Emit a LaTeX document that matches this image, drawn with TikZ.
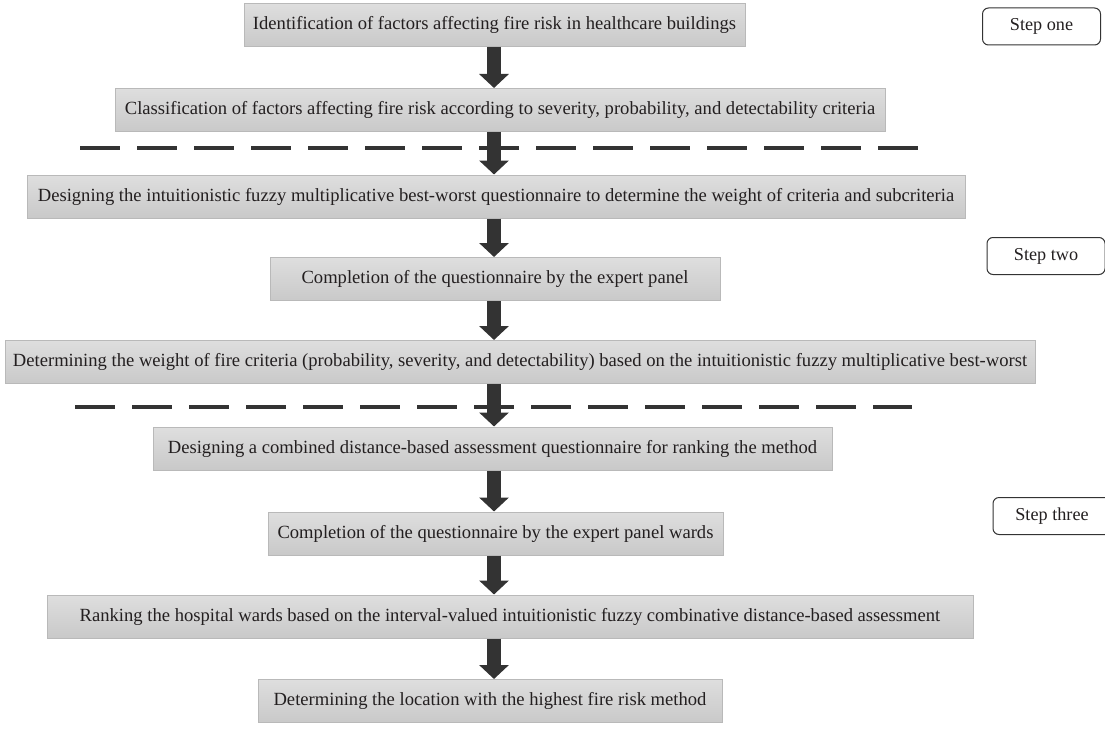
\documentclass[tikz,border=0pt]{standalone}
\usepackage{fontspec}
\setmainfont{Liberation Serif}
\usetikzlibrary{arrows.meta}
\definecolor{boxtop}{RGB}{222,222,222}
\definecolor{boxbot}{RGB}{201,201,201}
\definecolor{boxline}{RGB}{185,185,185}
\definecolor{ink}{RGB}{35,31,32}
\definecolor{arrowc}{RGB}{51,51,51}
\tikzset{
  proc/.style={draw=boxline, line width=1pt, top color=boxtop, bottom color=boxbot,
    minimum height=43pt, inner sep=0pt, text=ink, font=\fontsize{18.6}{21}\selectfont},
  stepbox/.style={draw=arrowc, line width=1pt, rounded corners=6pt, fill=white,
    minimum width=118pt, minimum height=37pt, inner sep=0pt, text=ink,
    font=\fontsize{18.2}{21}\selectfont},
  bigarrow/.style={draw=arrowc, line width=14pt,
    -{Triangle[width=29pt,length=14pt]}},
  sep/.style={draw=arrowc, line width=3.5pt, dash pattern=on 40pt off 17pt}
}
\begin{document}
\begin{tikzpicture}[x=1pt,y=-1pt]
\useasboundingbox (0,0) rectangle (1105,733);
\coordinate (ax) at (494,0);
\node[proc, minimum width=501pt] (b1) at (494.5,25) {Identification of factors affecting fire risk in healthcare buildings};
\node[proc, minimum width=770pt] (b2) at (500,110) {Classification of factors affecting fire risk according to severity, probability, and detectability criteria};
\node[proc, minimum width=938pt] (b3) at (496,196.5) {Designing the intuitionistic fuzzy multiplicative best-worst questionnaire to determine the weight of criteria and subcriteria};
\node[proc, minimum width=450pt] (b4) at (495,279) {Completion of the questionnaire by the expert panel};
\node[proc, minimum width=1030pt] (b5) at (520,362) {Determining the weight of fire criteria (probability, severity, and detectability) based on the intuitionistic fuzzy multiplicative best-worst};
\node[proc, minimum width=679pt] (b6) at (492.5,448.5) {Designing a combined distance-based assessment questionnaire for ranking the method};
\node[proc, minimum width=455pt] (b7) at (495.5,533.5) {Completion of the questionnaire by the expert panel wards};
\node[proc, minimum width=926pt] (b8) at (510,616.5) {Ranking the hospital wards based on the interval-valued intuitionistic fuzzy combinative distance-based assessment};
\node[proc, minimum width=464pt] (b9) at (490,701) {Determining the location with the highest fire risk method};

\draw[sep] (80,148) -- (918,148);
\draw[sep] (75,407) -- (912,407);

\draw[bigarrow] (b1.south -| ax) -- (b2.north -| ax);
\draw[bigarrow] (b2.south -| ax) -- (b3.north -| ax);
\draw[bigarrow] (b3.south -| ax) -- (b4.north -| ax);
\draw[bigarrow] (b4.south -| ax) -- (b5.north -| ax);
\draw[bigarrow] (b5.south -| ax) -- (b6.north -| ax);
\draw[bigarrow] (b6.south -| ax) -- (b7.north -| ax);
\draw[bigarrow] (b7.south -| ax) -- (b8.north -| ax);
\draw[bigarrow] (b8.south -| ax) -- (b9.north -| ax);

\node[stepbox] (s1) at (1041.5,26.5) {Step one};
\node[stepbox] (s2) at (1046,256) {Step two};
\node[stepbox] (s3) at (1052,516) {Step three};
\end{tikzpicture}
\end{document}
